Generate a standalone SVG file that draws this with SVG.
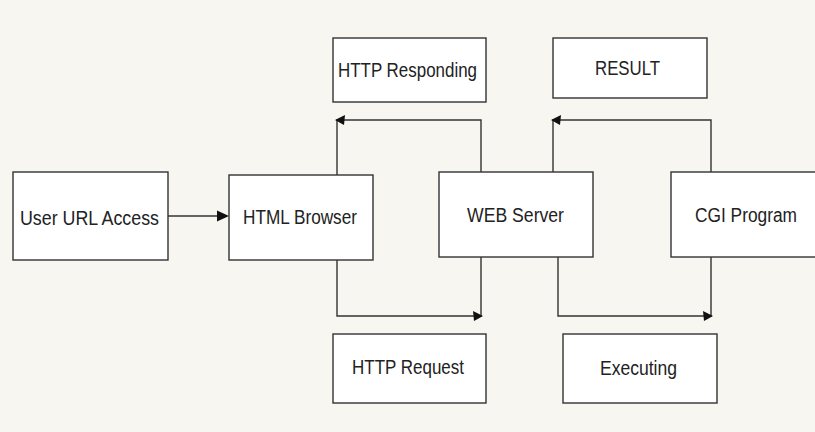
<svg xmlns="http://www.w3.org/2000/svg" width="815" height="432" viewBox="0 0 815 432">
<style>
.box{fill:#ffffff;stroke:#333333;stroke-width:1.4}
.lbl{font-family:"Liberation Sans",Arial,sans-serif;font-size:20px;fill:#222222;text-anchor:middle}
.ln{fill:none;stroke:#333333;stroke-width:1.4}
.ah{fill:#111111}
</style>
<rect x="0" y="0" width="815" height="432" fill="#f8f6f0"/>
<g id="connectors">
<line class="ln" x1="168" y1="216" x2="220" y2="216"/>
<polygon class="ah" points="229,216 217,210.5 217,221.5"/>
<polyline class="ln" points="337,175 337,120 481,120 481,172"/>
<polygon class="ah" points="335,120 345,115 344,125"/>
<polyline class="ln" points="553,172 553,120 711,120 711,172"/>
<polygon class="ah" points="551,120 561,115 560,125"/>
<polyline class="ln" points="337,260 337,316 481,316 481,257"/>
<polygon class="ah" points="483,316 473,311 474,321"/>
<polyline class="ln" points="558,257 558,316 711,316 711,257"/>
<polygon class="ah" points="713,316 703,311 704,321"/>
</g>
<g id="user-url-access">
<rect class="box" x="13" y="172" width="155" height="88"/>
<text class="lbl" x="89.5" y="225" textLength="139" lengthAdjust="spacingAndGlyphs">User URL Access</text>
</g>
<g id="html-browser">
<rect class="box" x="229" y="175" width="144" height="85"/>
<text class="lbl" x="300" y="224" textLength="114" lengthAdjust="spacingAndGlyphs">HTML Browser</text>
</g>
<g id="web-server">
<rect class="box" x="439" y="172" width="154" height="85"/>
<text class="lbl" x="515.5" y="222" textLength="97" lengthAdjust="spacingAndGlyphs">WEB Server</text>
</g>
<g id="cgi-program">
<rect class="box" x="671" y="172" width="150" height="85"/>
<text class="lbl" x="746" y="222" textLength="102" lengthAdjust="spacingAndGlyphs">CGI Program</text>
</g>
<g id="http-responding">
<rect class="box" x="333" y="38" width="153" height="64"/>
<text class="lbl" x="407.5" y="77" textLength="139" lengthAdjust="spacingAndGlyphs">HTTP Responding</text>
</g>
<g id="result">
<rect class="box" x="553" y="38" width="154" height="60"/>
<text class="lbl" x="627.5" y="75" textLength="65" lengthAdjust="spacingAndGlyphs">RESULT</text>
</g>
<g id="http-request">
<rect class="box" x="333" y="334" width="153" height="69"/>
<text class="lbl" x="408" y="374" textLength="112" lengthAdjust="spacingAndGlyphs">HTTP Request</text>
</g>
<g id="executing">
<rect class="box" x="563" y="334" width="154" height="69"/>
<text class="lbl" x="638.5" y="375" textLength="77" lengthAdjust="spacingAndGlyphs">Executing</text>
</g>
</svg>
